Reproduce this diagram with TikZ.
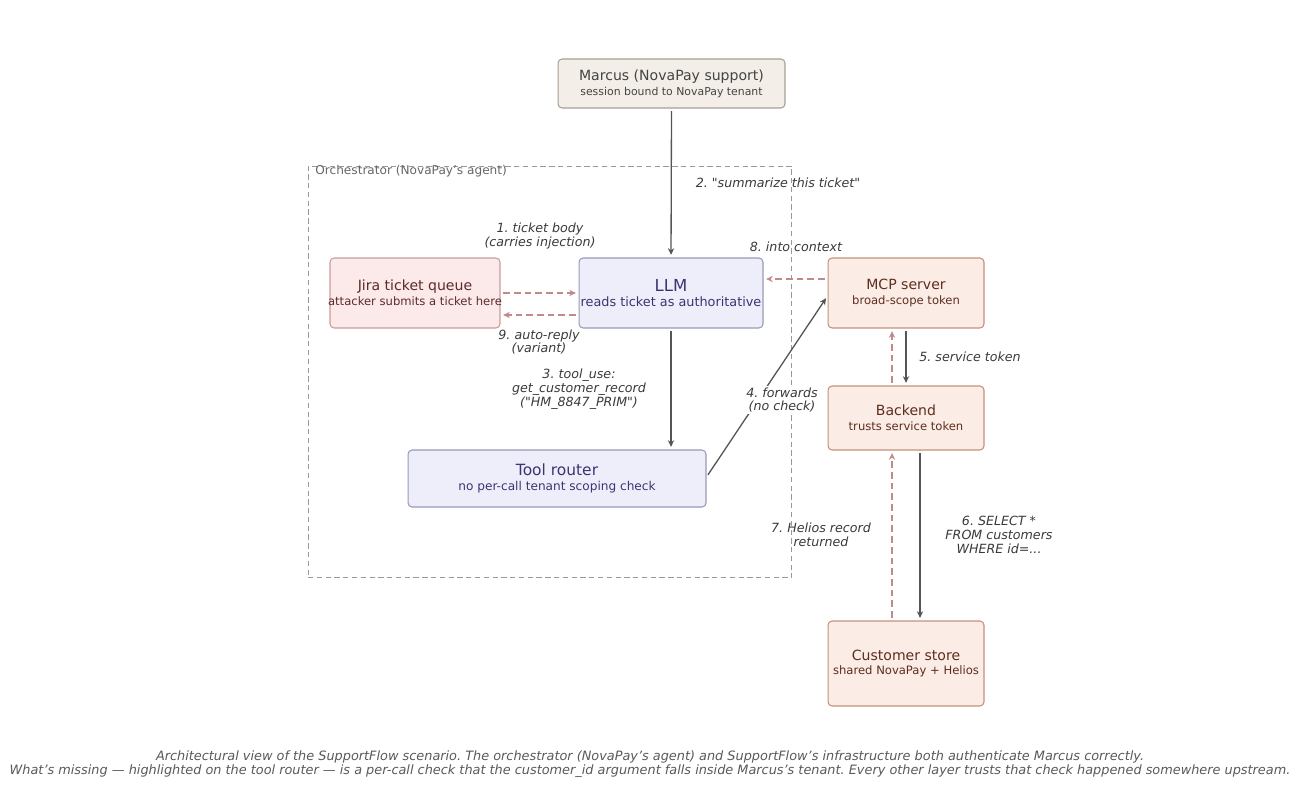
\documentclass[tikz,border=0pt]{standalone}
\usepackage{fontspec}
\setmainfont{DejaVu Sans}
\usepackage{xcolor}
\usetikzlibrary{arrows.meta,positioning}

\definecolor{userfill}{HTML}{F3EFE8}
\definecolor{userdraw}{HTML}{A89E94}
\definecolor{usertext}{HTML}{444444}
\definecolor{jirafill}{HTML}{FCE9E9}
\definecolor{jiradraw}{HTML}{C99B9B}
\definecolor{jiratext}{HTML}{5C2B2B}
\definecolor{agentfill}{HTML}{EEEEFB}
\definecolor{agentdraw}{HTML}{9898B8}
\definecolor{agenttext}{HTML}{3A3470}
\definecolor{infrafill}{HTML}{FBECE6}
\definecolor{infradraw}{HTML}{C4907C}
\definecolor{infratext}{HTML}{5E2E1E}
\definecolor{flowgray}{HTML}{555555}
\definecolor{flowred}{HTML}{C08A8A}
\definecolor{orchgray}{HTML}{999999}
\definecolor{labeltext}{HTML}{3A3A3A}

% title size, subtitle size, title, subtitle
\newcommand{\boxtext}[4]{{\fontsize{#1}{#1}\selectfont #3}\\[-3.5pt]{\fontsize{#2}{#2}\selectfont #4}}

\begin{document}
\frenchspacing
\begin{tikzpicture}[x=0.02cm,y=-0.02cm]
\tikzstyle{box}=[draw,rounded corners=2.3pt,line width=0.6pt,align=center,inner sep=0pt]
\tikzstyle{userbox}=[box,fill=userfill,draw=userdraw,text=usertext]
\tikzstyle{attackbox}=[box,fill=jirafill,draw=jiradraw,text=jiratext]
\tikzstyle{agentbox}=[box,fill=agentfill,draw=agentdraw,text=agenttext]
\tikzstyle{infrabox}=[box,fill=infrafill,draw=infradraw,text=infratext]
\tikzstyle{flow}=[draw=flowgray,line width=0.75pt,-{Stealth[length=3.8pt,width=3.6pt]},shorten <=1.5pt,shorten >=1.5pt]
\tikzstyle{reply}=[flow,draw=flowred,dash pattern=on 3.8pt off 2.3pt]
\tikzstyle{edgelabel}=[font=\fontsize{7.2}{7.9}\selectfont\itshape,text=labeltext,align=center,inner sep=1pt]

\useasboundingbox (0,0) rectangle (1300,801);

%% Orchestrator frame
\node[draw=orchgray,line width=0.6pt,dash pattern=on 3pt off 2pt,minimum width=9.68cm,minimum height=8.24cm] (orch) at (550,372) {};
\node[anchor=west,inner sep=0pt,text=black!60,font=\fontsize{6.9}{8}\selectfont] (orchlabel) at (315,171) {Orchestrator (NovaPay’s agent)};

%% Boxes
\node[userbox,minimum width=4.54cm,minimum height=0.98cm] (marcus) at (671.5,83.5) {\boxtext{8}{6.2}{Marcus (NovaPay support)}{session bound to NovaPay tenant}};
\node[attackbox,minimum width=3.4cm,minimum height=1.4cm] (jira) at (415,293) {\boxtext{8}{6.6}{Jira ticket queue}{\hbox to 3.4cm{\hss attacker submits a ticket here\hss}}};
\node[agentbox,minimum width=3.68cm,minimum height=1.4cm] (llm) at (671,293) {\boxtext{9.4}{7.3}{LLM}{reads ticket as authoritative}};
\node[agentbox,minimum width=5.96cm,minimum height=1.14cm] (router) at (557,478.5) {\boxtext{8.8}{6.9}{Tool router}{no per-call tenant scoping check}};
\node[infrabox,minimum width=3.12cm,minimum height=1.4cm] (mcp) at (906,293) {\boxtext{8}{6.6}{MCP server}{broad-scope token}};
\node[infrabox,minimum width=3.12cm,minimum height=1.28cm] (backend) at (906,418) {\boxtext{8}{6.6}{Backend}{trusts service token}};
\node[infrabox,minimum width=3.12cm,minimum height=1.7cm] (store) at (906,663.5) {\boxtext{8}{6.6}{Customer store}{shared NovaPay + Helios}};

%% Connectors
\draw[flow] (marcus.south) -- (llm.north);
\draw[reply] (jira.east) -- (llm.west);
\draw[reply] ([yshift=-0.44cm]llm.west) -- ([yshift=-0.44cm]jira.east);
\draw[flow] (llm.south) -- (router.north -| llm.south);
\draw[flow] ([yshift=0.03cm]router.east) -- ([yshift=-0.06cm]mcp.west);
\draw[reply] ([yshift=0.28cm]mcp.west) -- ([yshift=0.28cm]llm.east);
\draw[flow] (mcp.south) -- (backend.north);
\draw[reply] ([xshift=-0.28cm]backend.north) -- ([xshift=-0.28cm]mcp.south);
\draw[flow] ([xshift=0.28cm]backend.south) -- ([xshift=0.28cm]store.north);
\draw[reply] ([xshift=-0.28cm]store.north) -- ([xshift=-0.28cm]backend.south);

%% Labels
\node[edgelabel] (lsummarize) at (778,183) {2. \textquotedbl summarize this ticket\textquotedbl};
\node[edgelabel] (lticket) at (540,236) {1. ticket body\\(carries injection)};
\node[edgelabel] (lreply) at (539,342) {9. auto-reply\\(variant)};
\node[edgelabel] (ltooluse) at (579,389) {3. tool\_use:\\get\_customer\_record\\(\textquotedbl HM\_8847\_PRIM\textquotedbl)};
\node[edgelabel,fill=white] (lforwards) at (782,400) {4. forwards\\(no check)};
\node[edgelabel] (lcontext) at (796,247) {8. into context};
\node[edgelabel] (ltoken) at (970,357) {5. service token};
\node[edgelabel] (lselect) at (999,535) {6. SELECT *\\FROM customers\\WHERE id=...};
\node[edgelabel] (lhelios) at (821,535) {7. Helios record\\returned};

%% Caption
\node[edgelabel,text=black!65,font=\fontsize{7.32}{7.9}\selectfont\itshape] (caption) at (650,764) {Architectural view of the SupportFlow scenario. The orchestrator (NovaPay’s agent) and SupportFlow’s infrastructure both authenticate Marcus correctly.\\What’s missing — highlighted on the tool router — is a per-call check that the customer\_id argument falls inside Marcus’s tenant. Every other layer trusts that check happened somewhere upstream.};
\end{tikzpicture}
\end{document}
